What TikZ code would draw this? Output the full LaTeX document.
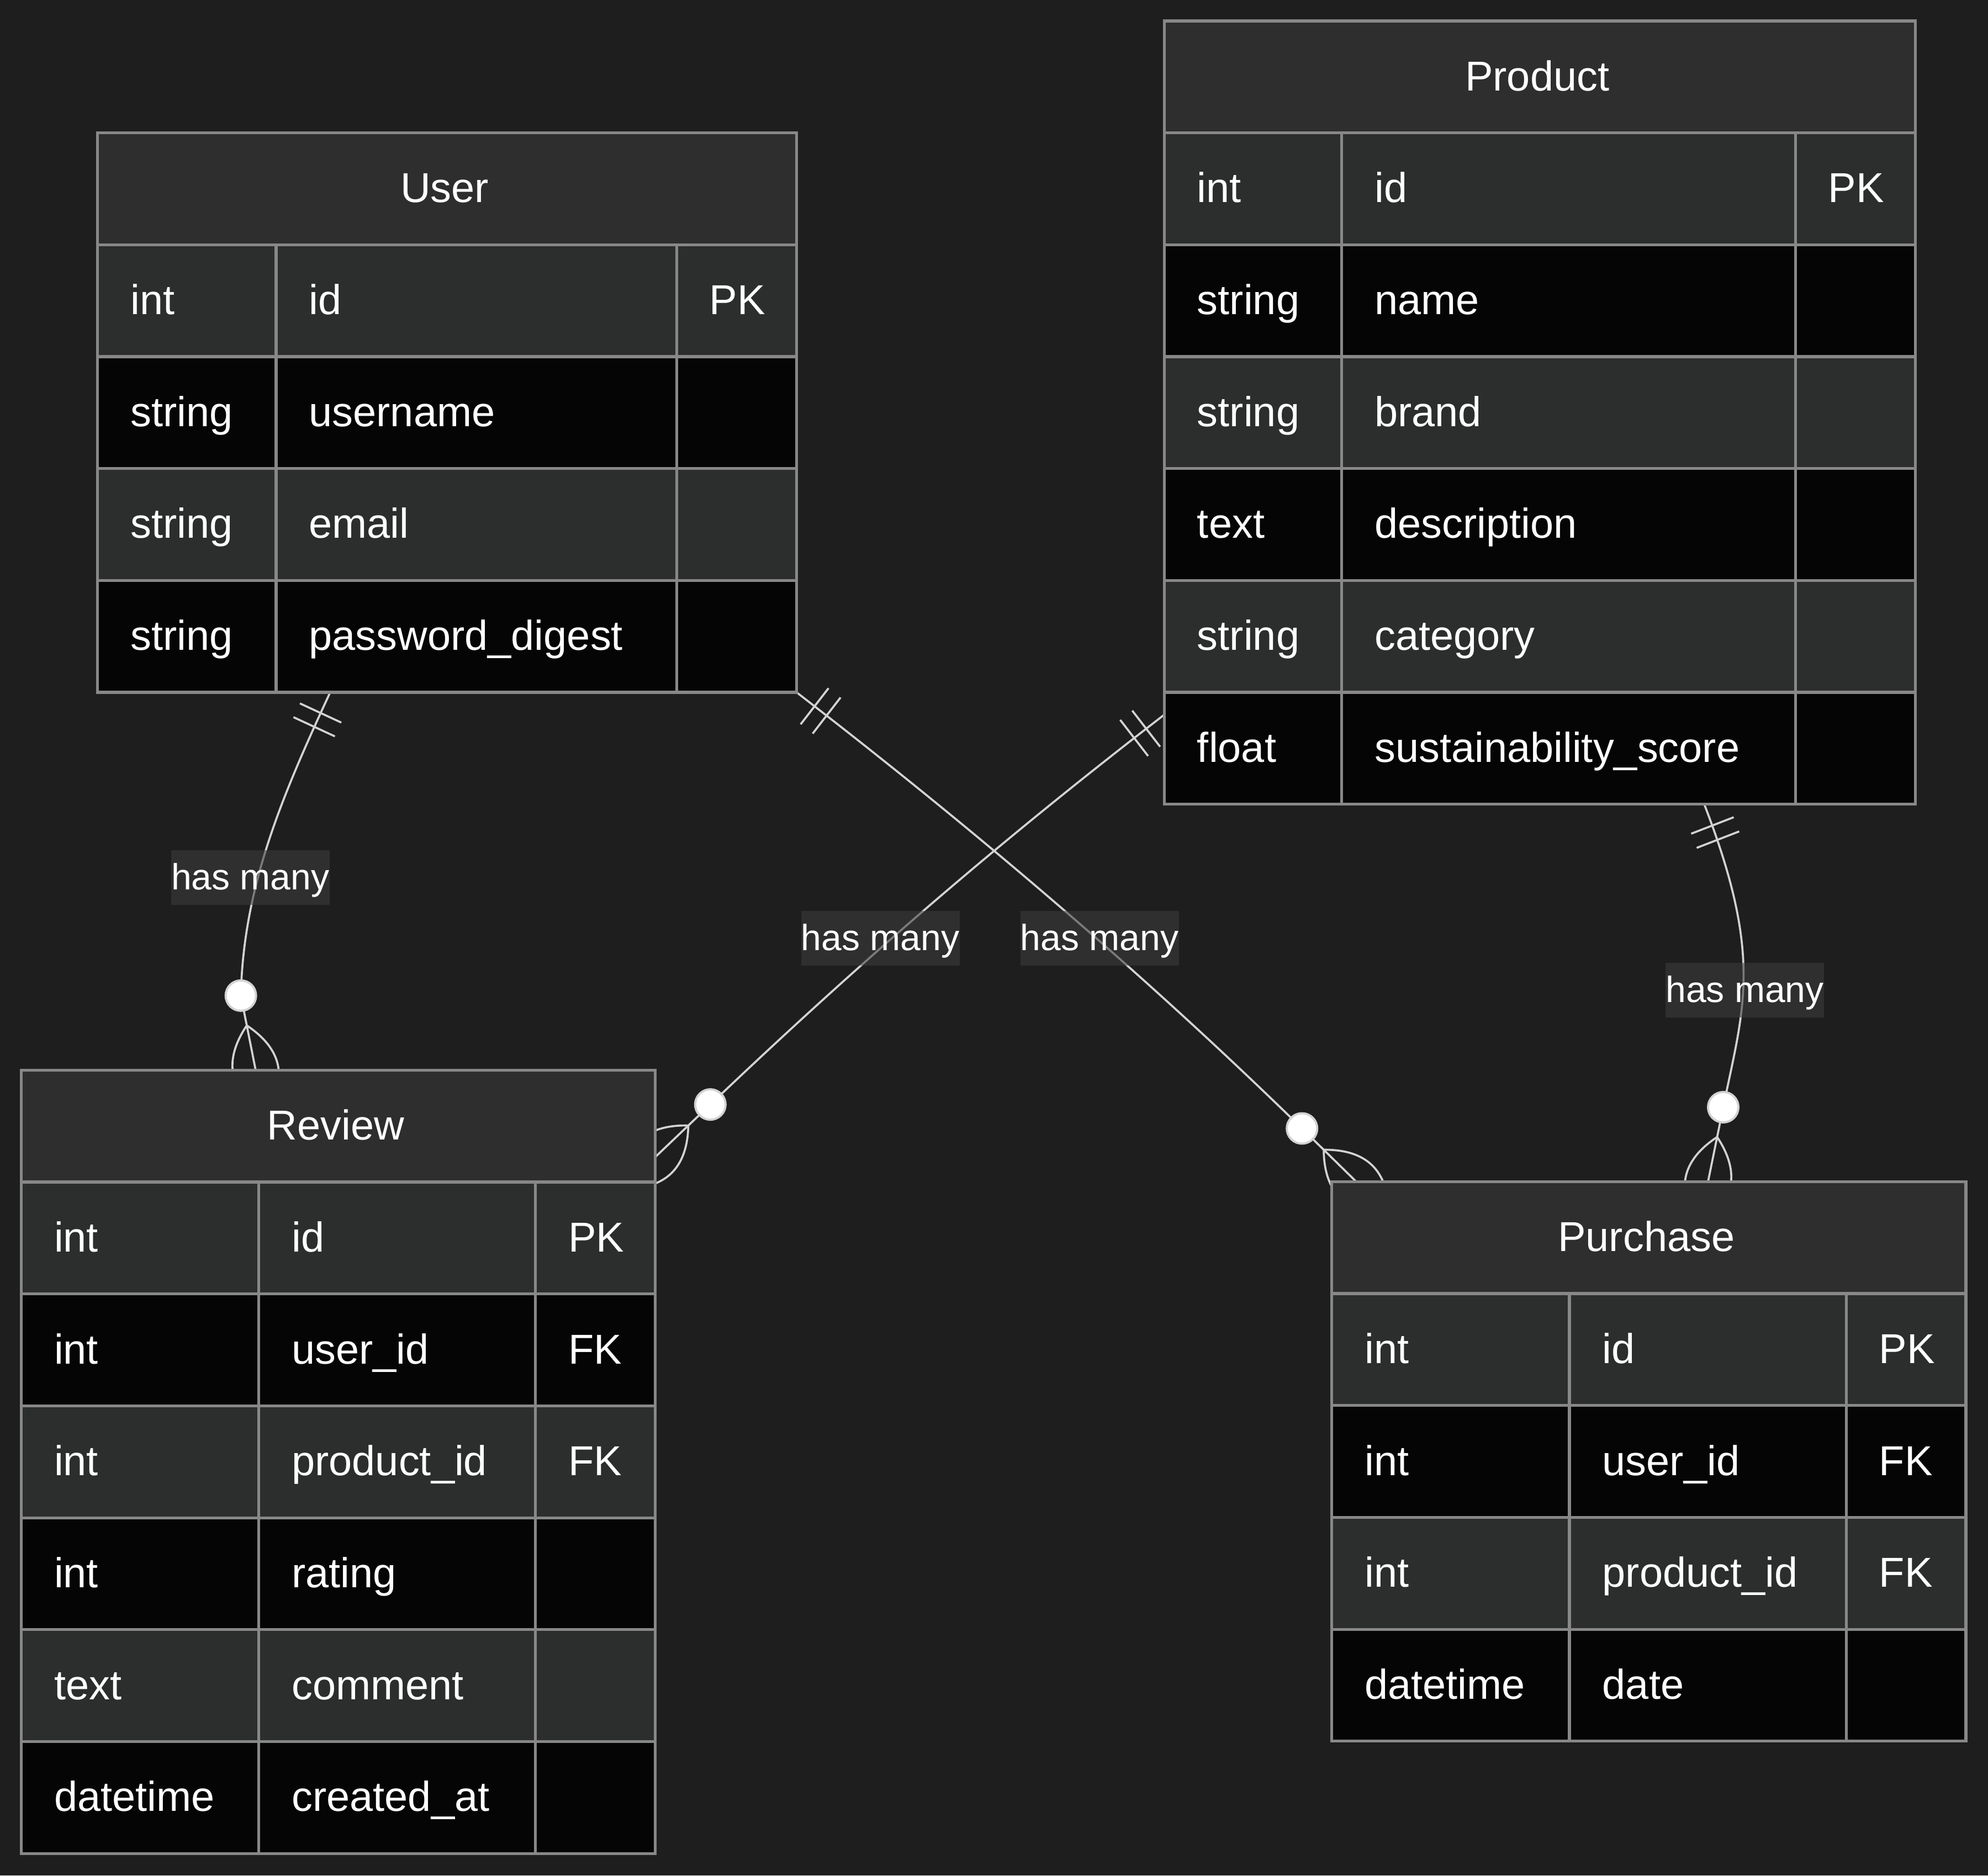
\documentclass[tikz,border=0pt]{standalone}
\usepackage{fontspec}
\setmainfont{Liberation Sans}
\usetikzlibrary{calc}

\definecolor{canvasbg}{HTML}{1E1E1E}
\definecolor{hdrfill}{HTML}{2E2E2E}
\definecolor{rowodd}{HTML}{2C2E2E}
\definecolor{roweven}{HTML}{050505}
\definecolor{gridc}{HTML}{888888}
\definecolor{relc}{HTML}{D3D3D3}
\definecolor{lblbg}{HTML}{3D3D3D}

\pgfdeclarelayer{back}
\pgfdeclarelayer{links}
\pgfsetlayers{back,links,main}

\tikzset{
  ertext/.style={text=white, inner sep=0pt, outer sep=0pt, font=\fontsize{33}{40}\selectfont},
  erframe/.style={draw=gridc, line width=2.3pt},
  rel/.style={draw=relc, line width=1.6pt},
  relmark/.style={draw=relc, line width=1.7pt},
  lbl/.style={fill=lblbg, fill opacity=0.58, text opacity=1, text=white, inner sep=0pt,
    minimum width=125pt, minimum height=43pt, text height=25pt, text depth=6pt,
    font=\fontsize{28.8}{34}\selectfont},
}

\newcommand\erRow{88.3}

% #1 name, #2 left, #3 top, #4 width, #5 first divider, #6 second divider,
% #7 number of rows, #8 title, #9 rows as type/name/key
\newcommand\erentity[9]{%
  \pgfmathsetmacro\erH{(#7+1)*\erRow}%
  \node[anchor=north west, minimum width=#4*1pt, minimum height=\erH*1pt,
        inner sep=0pt, outer sep=0pt] (#1) at (#2,#3) {};
  \fill[hdrfill] (#2,#3) rectangle ++(#4,\erRow);
  \foreach \ty/\nm/\ky [count=\i] in {#9}{%
    \pgfmathsetmacro\yy{#3+\i*\erRow}%
    \ifodd\i\relax
      \fill[rowodd] (#2,\yy) rectangle ++(#4,\erRow);
    \else
      \fill[roweven] (#2,\yy) rectangle ++(#4,\erRow);
    \fi
    \node[ertext, anchor=base west] (#1-type\i) at (#2+26,\yy+55) {\ty};
    \node[ertext, anchor=base west] (#1-name\i) at (#2+#5+26,\yy+55) {\nm};
    \node[ertext, anchor=base west] (#1-key\i) at (#2+#6+26,\yy+55) {\ky};
    \draw[erframe] (#2,\yy) -- ++(#4,0);
  }
  \node[ertext, anchor=base] (#1-title) at (#2+#4/2-2,#3+55) {#8};
  \draw[erframe] (#2+#5,#3+\erRow) -- (#2+#5,#3+\erH)
                 (#2+#6,#3+\erRow) -- (#2+#6,#3+\erH);
  \draw[erframe] (#2,#3) rectangle ++(#4,\erH);
}

% exactly-one mark: two bars across the line near the entity
\newcommand\oneStart[2]{%
  \pgfmathanglebetweenpoints{\pgfpointanchor{#1}{center}}{\pgfpointanchor{#2}{center}}%
  \let\mkang\pgfmathresult
  \begin{scope}[shift={(#1)}, rotate=\mkang]
    \draw[rel] (18pt,-18pt) -- (18pt,18pt) (30pt,-18pt) -- (30pt,18pt);
  \end{scope}}

% zero-or-more mark: crow's foot plus open circle
\newcommand\manyEnd[2]{%
  \pgfmathanglebetweenpoints{\pgfpointanchor{#1}{center}}{\pgfpointanchor{#2}{center}}%
  \let\mkang\pgfmathresult
  \begin{scope}[shift={(#2)}, rotate=\mkang]
    \draw[rel] (-36pt,0pt) .. controls (-12pt,-24pt) and (12pt,-24pt) .. (36pt,0pt)
               (-36pt,0pt) .. controls (-12pt,24pt) and (12pt,24pt) .. (36pt,0pt);
    \draw[relmark, fill=white] (-60pt,0pt) circle[radius=12pt];
  \end{scope}}

\begin{document}
\begin{tikzpicture}[x=1pt, y=-1pt]
\useasboundingbox (0,0) rectangle (1568.4,1480);
\begin{pgfonlayer}{back}
  \fill[canvasbg] (0,0) rectangle (1568.4,1480);
\end{pgfonlayer}

% entities
\erentity{user}{77}{104.8}{551.4}{140.8}{456.8}{4}{User}{%
  int/id/PK, string/username/{}, string/email/{}, string/password\_digest/{}}
\erentity{product}{918.5}{16.5}{592.5}{140}{497.9}{6}{Product}{%
  int/id/PK, string/name/{}, string/brand/{}, text/description/{},
  string/category/{}, float/sustainability\_score/{}}
\erentity{review}{16.7}{844.5}{500.3}{187.5}{405.8}{6}{Review}{%
  int/id/PK, int/user\_id/FK, int/product\_id/FK, int/rating/{},
  text/comment/{}, datetime/created\_at/{}}
\erentity{purchase}{1050.7}{932.5}{500.3}{187.5}{405.8}{4}{Purchase}{%
  int/id/PK, int/user\_id/FK, int/product\_id/FK, datetime/date/{}}

% relationship end points
\coordinate (s1) at ($(user.south west)+(183.5,0)$);
\coordinate (q1) at ($(s1)+(-38,82)$);
\coordinate (e1) at ($(review.north west)+(185,0)$);
\coordinate (c1) at ($(e1)+(-11.7,-58.9)$);

\coordinate (s2) at (user.south east);
\coordinate (q2) at ($(s2)+(118.5,91.5)$);
\coordinate (e2) at ($(purchase.north west)+(19.3,0)$);
\coordinate (c2) at ($(e2)+(-42.8,-42)$);

\coordinate (s3) at ($(product.south west)+(0,-70.6)$);
\coordinate (q3) at ($(s3)+(-118.5,91.5)$);
\coordinate (e3) at ($(review.north east)+(0,68.5)$);
\coordinate (c3) at ($(e3)+(43.4,-41.4)$);

\coordinate (s4) at ($(product.south west)+(426,0)$);
\coordinate (q4) at ($(s4)+(46.8,120.9)$);
\coordinate (e4) at ($(purchase.north west)+(296.8,0)$);
\coordinate (c4) at ($(e4)+(12,-58.8)$);

\begin{pgfonlayer}{links}
  \draw[rel] (s1) .. controls (q1) and +(2,-86) .. (c1) -- (e1);
  \draw[rel] (s2) .. controls (q2) and +(-140,-137) .. (c2) -- (e2);
  \draw[rel] (s3) .. controls (q3) and +(130,-124) .. (c3) -- (e3);
  \draw[rel] (s4) .. controls (q4) and +(16,-78.4) .. (c4) -- (e4);
  \oneStart{s1}{q1}
  \oneStart{s2}{q2}
  \oneStart{s3}{q3}
  \oneStart{s4}{q4}
  \manyEnd{c1}{e1}
  \manyEnd{c2}{e2}
  \manyEnd{c3}{e3}
  \manyEnd{c4}{e4}
\end{pgfonlayer}

% relationship labels
\node[lbl] (lab1) at (197.5,692.5) {has many};
\node[lbl] (lab2) at (694.5,740.5) {has many};
\node[lbl] (lab3) at (867.5,740.5) {has many};
\node[lbl] (lab4) at (1376.5,781.5) {has many};
\end{tikzpicture}
\end{document}
